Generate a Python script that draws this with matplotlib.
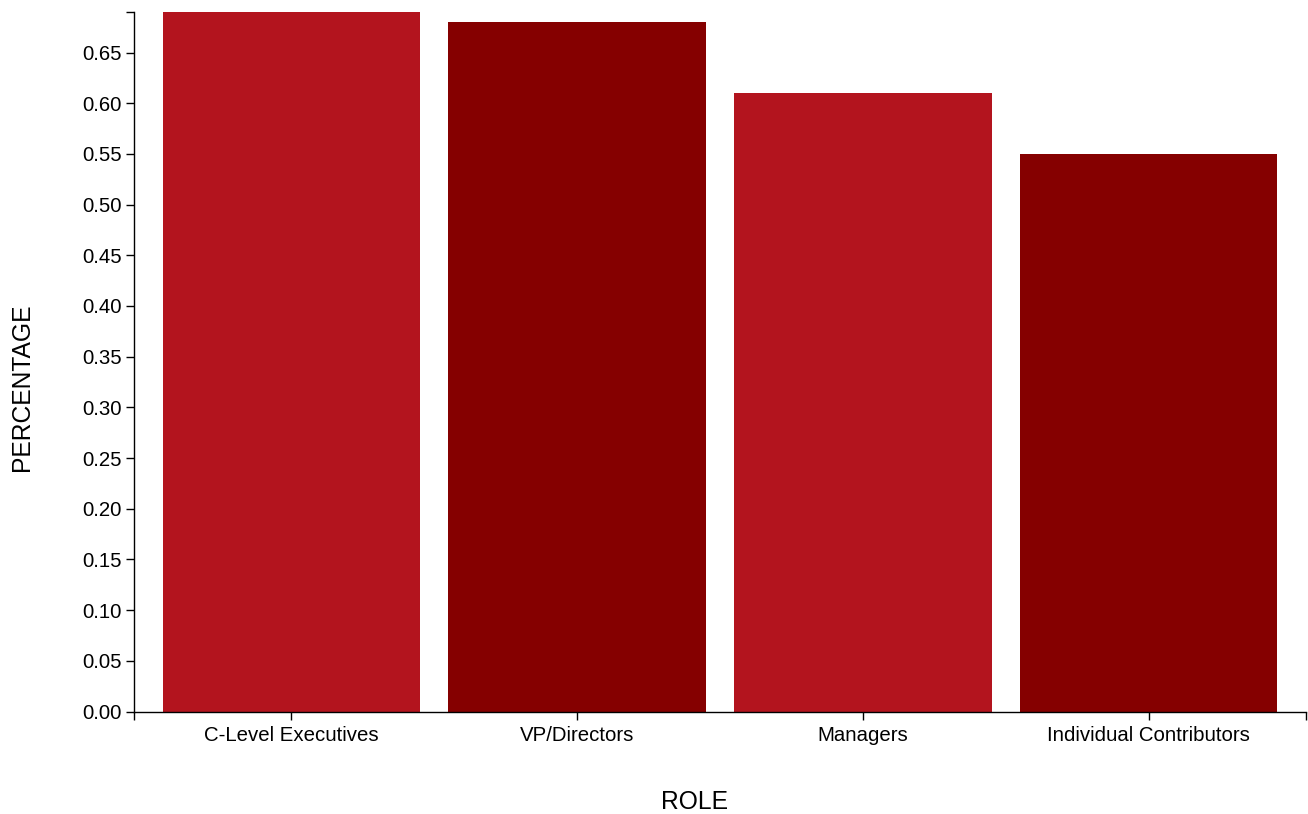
import matplotlib
matplotlib.use('Agg')

import matplotlib.pyplot as plt
import numpy as np

# Share of respondents by role
roles = ["C-Level Executives", "VP/Directors", "Managers", "Individual Contributors"]
values = [0.69, 0.68, 0.61, 0.55]
colors = ["#B3141E", "#850000", "#B3141E", "#850000"]

plt.rcParams['font.family'] = ['Liberation Sans', 'DejaVu Sans']

fig = plt.figure(figsize=(13.08, 8.14), dpi=100)
ax = fig.add_axes([134 / 1308, (814 - 711.5) / 814, 1172 / 1308, 699.5 / 814])

x = np.arange(len(roles))
ax.bar(x, values, width=0.9, color=colors)

ax.set_xlim(-0.55, len(roles) - 0.45)
ax.set_ylim(0, max(values))

ax.set_xticks(x)
ax.set_xticklabels(roles)
ax.set_yticks(np.arange(0, 0.66, 0.05))
ax.set_yticklabels([f"{v:.2f}" for v in np.arange(0, 0.66, 0.05)])

# outer ticks at the ends of each axis line
ax.set_xticks([-0.55, len(roles) - 0.45], minor=True)
ax.set_yticks([max(values)], minor=True)

for s in ['top', 'right']:
    ax.spines[s].set_visible(False)
for s in ['left', 'bottom']:
    ax.spines[s].set_linewidth(1.0)
    ax.spines[s].set_color('black')

ax.tick_params(which='both', length=6, width=1.0, color='black',
               labelsize=14.7)
ax.tick_params(axis='x', pad=4.5)
ax.tick_params(axis='y', pad=3)

ax.set_xlabel("ROLE", fontsize=17.7)
ax.set_ylabel("PERCENTAGE", fontsize=17.7)
ax.xaxis.label.set_va('center')
ax.yaxis.label.set_va('center')
ax.xaxis.set_label_coords(0.478, -0.129)
ax.yaxis.set_label_coords(-0.0956, 0.464)

fig.savefig("out.png", dpi=100)
